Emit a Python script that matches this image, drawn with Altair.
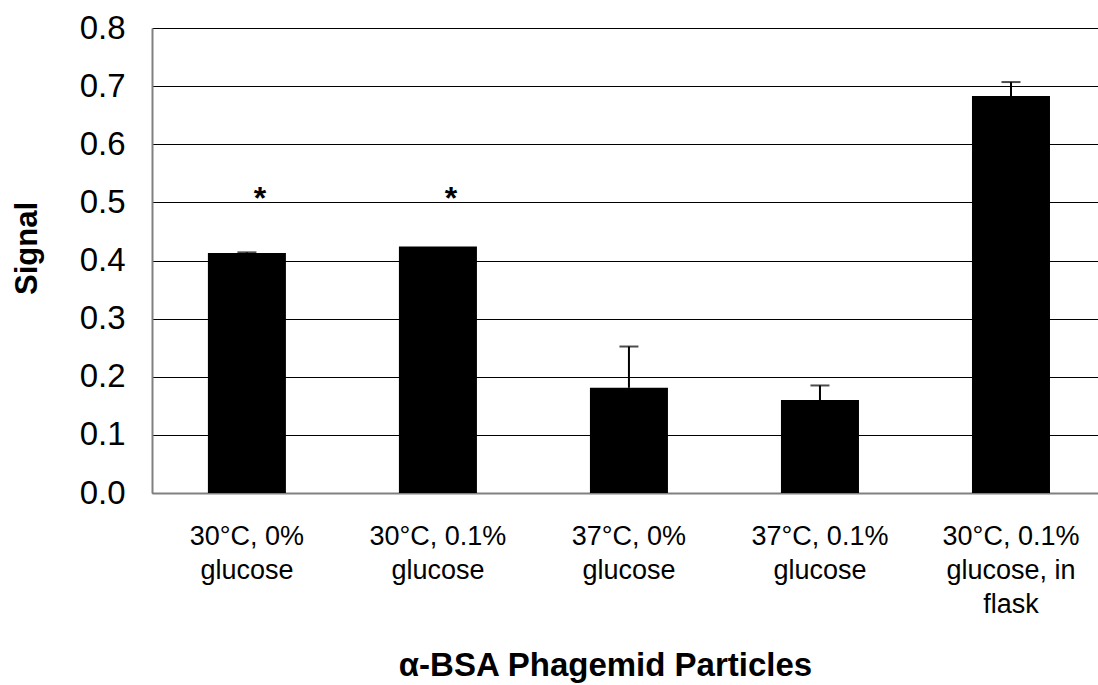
import altair as alt
import pandas as pd

# Phagemid particle signal under different growth conditions
conditions = [
    "30°C, 0%\nglucose",
    "30°C, 0.1%\nglucose",
    "37°C, 0%\nglucose",
    "37°C, 0.1%\nglucose",
    "30°C, 0.1%\nglucose, in\nflask",
]
signal = [0.413, 0.424, 0.181, 0.160, 0.683]
error = [0.001, 0.0, 0.071, 0.025, 0.024]
significance = ["*", "*", "", "", ""]

y_ticks = [0.0, 0.1, 0.2, 0.3, 0.4, 0.5, 0.6, 0.7, 0.8]

df = pd.DataFrame({
    "condition": conditions,
    "signal": signal,
    "error": error,
    "mark": significance,
})

FONT = "Liberation Sans"

x_enc = alt.X(
    "condition:N",
    sort=conditions,
    scale=alt.Scale(paddingInner=0.5916, paddingOuter=0.272, align=0.538),
    axis=alt.Axis(
        title="α-BSA Phagemid Particles",
        labelAngle=0,
        labelExpr="split(datum.label, '\\n')",
        labelFont=FONT,
        labelFontSize=27,
        labelLineHeight=34,
        labelPadding=30,
        labelLimit=400,
        labelOverlap=False,
        labelColor="black",
        ticks=False,
        tickSize=0,
        grid=False,
        domainColor="#808080",
        domainWidth=2,
        titleFont=FONT,
        titleFontSize=33,
        titleFontWeight="bold",
        titleColor="black",
        titleX=453,
        titleY=182,
        titleAlign="center",
        titleBaseline="alphabetic",
    ),
)

y_scale = alt.Scale(domain=[0, 0.8], nice=False, zero=True)

bars = alt.Chart(df).mark_bar(color="black").encode(
    x=x_enc,
    y=alt.Y(
        "signal:Q",
        scale=y_scale,
        axis=alt.Axis(
            title="Signal",
            values=y_ticks,
            format=".1f",
            labelFont=FONT,
            labelFontSize=33,
            labelPadding=27,
            labelColor="black",
            ticks=False,
            tickSize=0,
            grid=True,
            gridColor="black",
            gridWidth=1,
            domainColor="#808080",
            domainWidth=2,
            titleFont=FONT,
            titleFontSize=31,
            titleFontWeight="bold",
            titleColor="black",
            titleAngle=270,
            titleX=-125,
            titleY=220,
            titleAlign="center",
            titleBaseline="middle",
        ),
    ),
)

with_err = alt.Chart(df).transform_filter("datum.error > 0").transform_calculate(
    upper="datum.signal + datum.error"
)

stems = with_err.mark_rule(color="black", strokeWidth=2).encode(
    x=alt.X("condition:N", sort=conditions),
    y=alt.Y("signal:Q", scale=y_scale),
    y2="upper:Q",
)

caps = with_err.mark_tick(color="black", thickness=2, size=19).encode(
    x=alt.X("condition:N", sort=conditions),
    y=alt.Y("upper:Q", scale=y_scale),
)

stars = alt.Chart(df).transform_filter("datum.mark != ''").mark_text(
    font=FONT, fontSize=32, fontWeight="bold", baseline="alphabetic",
    align="center", dx=13, color="black"
).encode(
    x=alt.X("condition:N", sort=conditions),
    y=alt.datum(0.488),
    text="mark:N",
)

chart = (
    alt.layer(bars, stems, caps, stars)
    .properties(
        width=946,
        height=465,
        autosize=alt.AutoSizeParams(type="none"),
        padding={"left": 152, "top": 28, "right": 0, "bottom": 192},
        background="white",
    )
    .configure_view(stroke=None)
)

chart.save("out.html", embed_options={"renderer": "svg", "actions": False})
